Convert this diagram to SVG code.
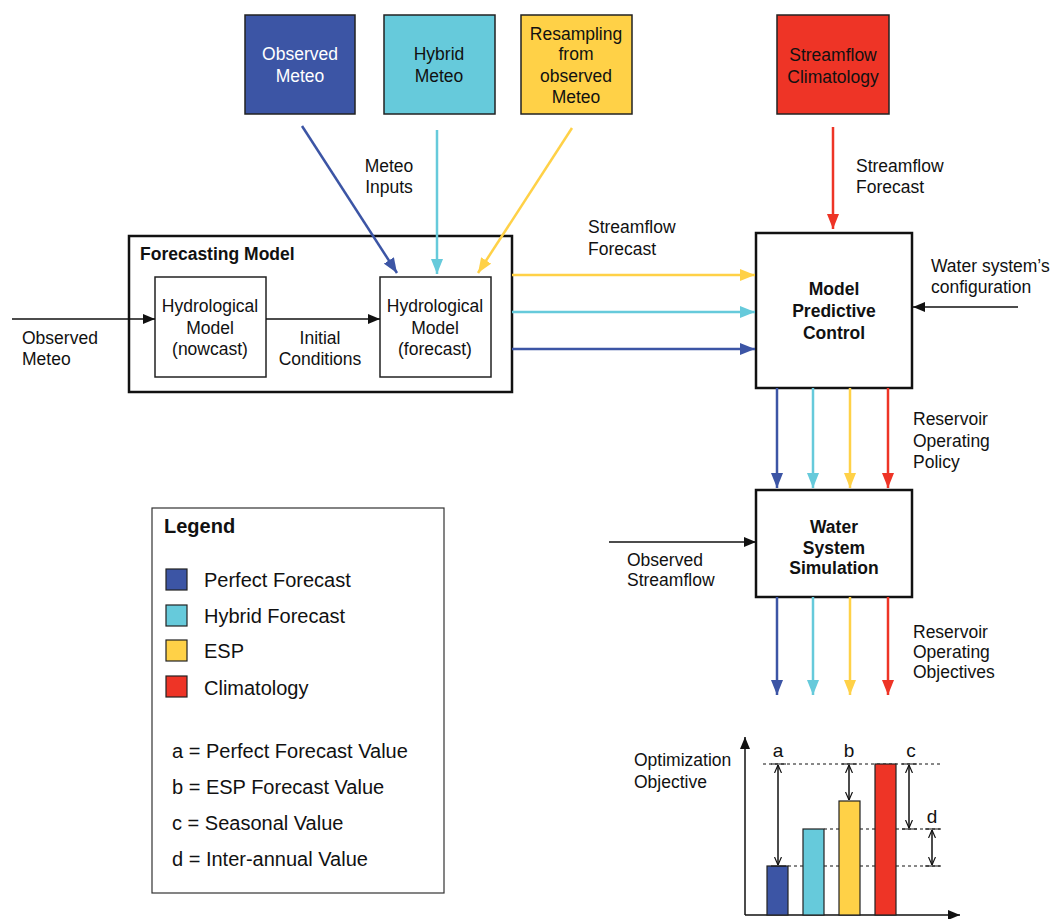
<svg xmlns="http://www.w3.org/2000/svg" width="1052" height="919" viewBox="0 0 1052 919">
<style>
text{font-family:"Liberation Sans",Arial,sans-serif;font-size:17.5px;fill:#111;}
.b{font-weight:bold;}
.m{text-anchor:middle;}
.w{fill:#fff;}
.lg{font-size:20px;}
.ch{font-size:19px;}
.box{fill:#fff;stroke:#111;stroke-width:2.5;}
.ibox{fill:#fff;stroke:#222;stroke-width:1.5;}
.src{stroke:#222;stroke-width:1.5;}
.cb{stroke:#3C55A5;stroke-width:2.5;fill:none;}
.cc{stroke:#66CADB;stroke-width:2.5;fill:none;}
.cy{stroke:#FFD147;stroke-width:2.5;fill:none;}
.cr{stroke:#EE3426;stroke-width:2.5;fill:none;}
.k{stroke:#111;stroke-width:1.5;fill:none;}
.dot{stroke:#111;stroke-width:1;stroke-dasharray:3,3;fill:none;}
</style>
<defs>
<marker id="ab" viewBox="0 0 15 12" refX="15" refY="6" markerWidth="15" markerHeight="12" markerUnits="userSpaceOnUse" orient="auto"><path d="M0,0 L15,6 L0,12 z" fill="#3C55A5"/></marker>
<marker id="ac" viewBox="0 0 15 12" refX="15" refY="6" markerWidth="15" markerHeight="12" markerUnits="userSpaceOnUse" orient="auto"><path d="M0,0 L15,6 L0,12 z" fill="#66CADB"/></marker>
<marker id="ay" viewBox="0 0 15 12" refX="15" refY="6" markerWidth="15" markerHeight="12" markerUnits="userSpaceOnUse" orient="auto"><path d="M0,0 L15,6 L0,12 z" fill="#FFD147"/></marker>
<marker id="ar" viewBox="0 0 15 12" refX="15" refY="6" markerWidth="15" markerHeight="12" markerUnits="userSpaceOnUse" orient="auto"><path d="M0,0 L15,6 L0,12 z" fill="#EE3426"/></marker>
<marker id="ak" viewBox="0 0 12 10" refX="12" refY="5" markerWidth="12" markerHeight="10" markerUnits="userSpaceOnUse" orient="auto"><path d="M0,0 L12,5 L0,10 z" fill="#111"/></marker>
<marker id="av" viewBox="0 0 8 8" refX="8" refY="4" markerWidth="8" markerHeight="8" markerUnits="userSpaceOnUse" orient="auto-start-reverse"><path d="M0,0.5 L8,4 L0,7.5" fill="none" stroke="#111" stroke-width="1.2"/></marker>
</defs>

<g id="observed-meteo-src"><rect x="245" y="15" width="110" height="99" fill="#3C55A5" class="src"/><text class="m w" x="300" y="60">Observed</text><text class="m w" x="300" y="82">Meteo</text></g>
<g id="hybrid-meteo-src"><rect x="384" y="15" width="111" height="99" fill="#66CADB" class="src"/><text class="m" x="439" y="60">Hybrid</text><text class="m" x="439" y="82">Meteo</text></g>
<g id="resampling-src"><rect x="521" y="15" width="111" height="99" fill="#FFD147" class="src"/><text class="m" x="576" y="40">Resampling</text><text class="m" x="576" y="60">from</text><text class="m" x="576" y="82">observed</text><text class="m" x="576" y="103">Meteo</text></g>
<g id="climatology-src"><rect x="777" y="15" width="112" height="99" fill="#EE3426" class="src"/><text class="m" x="833" y="61">Streamflow</text><text class="m" x="833" y="83">Climatology</text></g>

<g id="forecasting-model"><rect x="129" y="236" width="383" height="156" class="box"/><text class="b" x="140" y="260">Forecasting Model</text></g>
<g id="hydro-nowcast"><rect x="155" y="277" width="111" height="100" class="ibox"/><text class="m" x="210" y="312">Hydrological</text><text class="m" x="210" y="334">Model</text><text class="m" x="210" y="355">(nowcast)</text></g>
<g id="hydro-forecast"><rect x="380" y="277" width="111" height="100" class="ibox"/><text class="m" x="435" y="312">Hydrological</text><text class="m" x="435" y="334">Model</text><text class="m" x="435" y="355">(forecast)</text></g>
<g id="mpc"><rect x="756" y="233" width="156" height="155" class="box"/><text class="m b" x="834" y="295">Model</text><text class="m b" x="834" y="317">Predictive</text><text class="m b" x="834" y="339">Control</text></g>
<g id="wss"><rect x="756" y="490" width="156" height="107" class="box"/><text class="m b" x="834" y="533">Water</text><text class="m b" x="834" y="554">System</text><text class="m b" x="834" y="574">Simulation</text></g>

<g id="connectors">
<line x1="302" y1="126" x2="397" y2="273" class="cb" marker-end="url(#ab)"/>
<line x1="437" y1="130" x2="437" y2="274" class="cc" marker-end="url(#ac)"/>
<line x1="572" y1="128" x2="478" y2="273" class="cy" marker-end="url(#ay)"/>
<line x1="833" y1="127" x2="833" y2="229" class="cr" marker-end="url(#ar)"/>
<line x1="512" y1="275" x2="755" y2="275" class="cy" marker-end="url(#ay)"/>
<line x1="512" y1="312" x2="755" y2="312" class="cc" marker-end="url(#ac)"/>
<line x1="512" y1="349" x2="755" y2="349" class="cb" marker-end="url(#ab)"/>
<line x1="12" y1="319" x2="155" y2="319" class="k" marker-end="url(#ak)"/>
<line x1="266" y1="319" x2="380" y2="319" class="k" marker-end="url(#ak)"/>
<line x1="1018" y1="307" x2="913" y2="307" class="k" marker-end="url(#ak)"/>
<line x1="609" y1="542" x2="756" y2="542" class="k" marker-end="url(#ak)"/>
<line x1="777" y1="388" x2="777" y2="488" class="cb" marker-end="url(#ab)"/>
<line x1="813" y1="388" x2="813" y2="488" class="cc" marker-end="url(#ac)"/>
<line x1="850" y1="388" x2="850" y2="488" class="cy" marker-end="url(#ay)"/>
<line x1="888" y1="388" x2="888" y2="488" class="cr" marker-end="url(#ar)"/>
<line x1="777" y1="597" x2="777" y2="695" class="cb" marker-end="url(#ab)"/>
<line x1="813" y1="597" x2="813" y2="695" class="cc" marker-end="url(#ac)"/>
<line x1="850" y1="597" x2="850" y2="695" class="cy" marker-end="url(#ay)"/>
<line x1="888" y1="597" x2="888" y2="695" class="cr" marker-end="url(#ar)"/>
</g>

<g id="labels">
<text class="m" x="389" y="172">Meteo</text><text class="m" x="389" y="193">Inputs</text>
<text x="22" y="344">Observed</text><text x="22" y="365">Meteo</text>
<text class="m" x="320" y="344">Initial</text><text class="m" x="320" y="365">Conditions</text>
<text x="588" y="233">Streamflow</text><text x="588" y="255">Forecast</text>
<text x="856" y="172">Streamflow</text><text x="856" y="193">Forecast</text>
<text x="931" y="272">Water system’s</text><text x="931" y="293">configuration</text>
<text x="913" y="425">Reservoir</text><text x="913" y="447">Operating</text><text x="913" y="468">Policy</text>
<text x="627" y="566">Observed</text><text x="627" y="586">Streamflow</text>
<text x="913" y="638">Reservoir</text><text x="913" y="658">Operating</text><text x="913" y="678">Objectives</text>
</g>

<g id="chart">
<line x1="745" y1="915" x2="745" y2="737" class="k" marker-end="url(#ak)"/>
<line x1="745" y1="915" x2="960" y2="915" class="k" marker-end="url(#ak)"/>
<line x1="763" y1="764" x2="942" y2="764" class="dot"/>
<line x1="824" y1="829" x2="942" y2="829" class="dot"/>
<line x1="788" y1="866" x2="942" y2="866" class="dot"/>
<rect x="767" y="866" width="21" height="49" fill="#3C55A5" stroke="#222" stroke-width="1.2"/>
<rect x="803" y="829" width="21" height="86" fill="#66CADB" stroke="#222" stroke-width="1.2"/>
<rect x="839" y="801" width="21" height="114" fill="#FFD147" stroke="#222" stroke-width="1.2"/>
<rect x="875" y="764" width="21" height="151" fill="#EE3426" stroke="#222" stroke-width="1.2"/>
<path d="M771,764 H786 M771,866 H786 M842,764 H857 M902,764 H917 M902,829 H917 M925,829 H940 M925,866 H940" stroke="#111" stroke-width="1.2"/>
<line x1="778" y1="765" x2="778" y2="865" class="k" stroke-width="1.2" marker-start="url(#av)" marker-end="url(#av)"/>
<line x1="849" y1="765" x2="849" y2="800" class="k" stroke-width="1.2" marker-start="url(#av)" marker-end="url(#av)"/>
<line x1="909" y1="765" x2="909" y2="828" class="k" stroke-width="1.2" marker-start="url(#av)" marker-end="url(#av)"/>
<line x1="932" y1="830" x2="932" y2="865" class="k" stroke-width="1.2" marker-start="url(#av)" marker-end="url(#av)"/>
<text class="m ch" x="778" y="757">a</text>
<text class="m ch" x="849" y="757">b</text>
<text class="m ch" x="911" y="757">c</text>
<text class="m ch" x="932" y="823">d</text>
<text x="634" y="766">Optimization</text><text x="634" y="788">Objective</text>
</g>

<g id="legend">
<rect x="152" y="508" width="292" height="385" fill="#fff" stroke="#333" stroke-width="1.2"/>
<text class="b lg" x="164" y="533">Legend</text>
<rect x="166" y="569" width="21" height="21" fill="#3C55A5" stroke="#222" stroke-width="1.2"/>
<rect x="166" y="605" width="21" height="21" fill="#66CADB" stroke="#222" stroke-width="1.2"/>
<rect x="166" y="640" width="21" height="21" fill="#FFD147" stroke="#222" stroke-width="1.2"/>
<rect x="166" y="676" width="21" height="21" fill="#EE3426" stroke="#222" stroke-width="1.2"/>
<text class="lg" x="204" y="587">Perfect Forecast</text>
<text class="lg" x="204" y="623">Hybrid Forecast</text>
<text class="lg" x="204" y="658">ESP</text>
<text class="lg" x="204" y="695">Climatology</text>
<text class="lg" x="172" y="758">a = Perfect Forecast Value</text>
<text class="lg" x="172" y="794">b = ESP Forecast Value</text>
<text class="lg" x="172" y="830">c = Seasonal Value</text>
<text class="lg" x="172" y="866">d = Inter-annual Value</text>
</g>
</svg>
